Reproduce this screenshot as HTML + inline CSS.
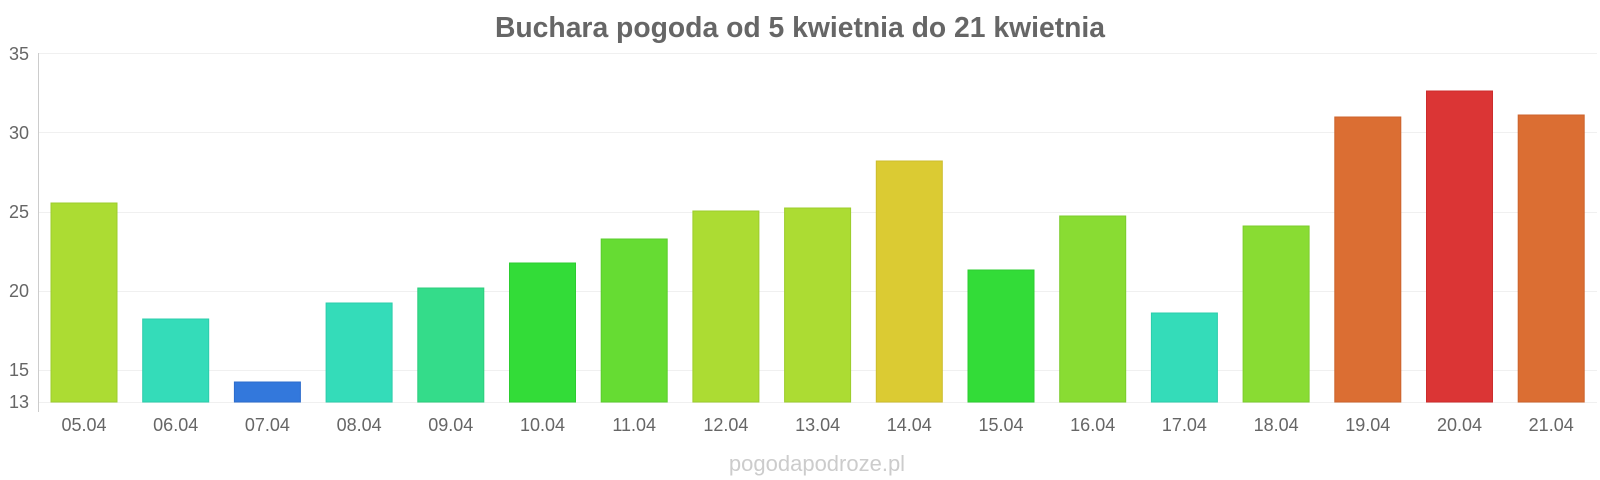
<!DOCTYPE html>
<html><head><meta charset="utf-8"><style>
html,body{margin:0;padding:0;background:#fff;width:1600px;height:480px;overflow:hidden}
svg text{font-family:"Liberation Sans",sans-serif}
</style></head><body>
<svg width="1600" height="480" xmlns="http://www.w3.org/2000/svg">
<text x="800" y="37" text-anchor="middle" font-size="28.3" font-weight="bold" fill="#666">Buchara pogoda od 5 kwietnia do 21 kwietnia</text>
<g stroke="#f0f0f0" stroke-width="1">
<line x1="38" x2="1597" y1="53.5" y2="53.5"/>
<line x1="38" x2="1597" y1="132.5" y2="132.5"/>
<line x1="38" x2="1597" y1="212.5" y2="212.5"/>
<line x1="38" x2="1597" y1="291.5" y2="291.5"/>
<line x1="38" x2="1597" y1="370.5" y2="370.5"/>
<line x1="38" x2="1597" y1="402.5" y2="402.5"/>
</g>
<line x1="38.5" x2="38.5" y1="53" y2="412" stroke="#ccc"/>
<g font-size="18" fill="#666" text-anchor="end">
<text x="29" y="60">35</text>
<text x="29" y="139">30</text>
<text x="29" y="218">25</text>
<text x="29" y="297">20</text>
<text x="29" y="376">15</text>
<text x="29" y="408">13</text>
</g>
<g stroke-width="1">
<rect x="51" y="203" width="66" height="199" fill="#acdc33" stroke="#9ccc2c"/>
<rect x="142.7" y="319" width="66" height="83" fill="#34dcb9" stroke="#2cccab"/>
<rect x="234.4" y="382" width="66" height="20" fill="#3378dc" stroke="#2c6ccc"/>
<rect x="326.1" y="303" width="66" height="99" fill="#34dcb9" stroke="#2cccab"/>
<rect x="417.8" y="288" width="66" height="114" fill="#34dc8a" stroke="#2ccc7c"/>
<rect x="509.5" y="263" width="66" height="139" fill="#33dc38" stroke="#2ccc30"/>
<rect x="601.2" y="239" width="66" height="163" fill="#66dc33" stroke="#5acc2c"/>
<rect x="692.9" y="211" width="66" height="191" fill="#acdc33" stroke="#9ccc2c"/>
<rect x="784.6" y="208" width="66" height="194" fill="#acdc33" stroke="#9ccc2c"/>
<rect x="876.3" y="161" width="66" height="241" fill="#dbcb33" stroke="#ccbc2c"/>
<rect x="968" y="270" width="66" height="132" fill="#33dc38" stroke="#2ccc30"/>
<rect x="1059.7" y="216" width="66" height="186" fill="#89dc33" stroke="#7ccc2c"/>
<rect x="1151.4" y="313" width="66" height="89" fill="#34dcb9" stroke="#2cccab"/>
<rect x="1243.1" y="226" width="66" height="176" fill="#89dc33" stroke="#7ccc2c"/>
<rect x="1334.8" y="117" width="66" height="285" fill="#db6e33" stroke="#cc632c"/>
<rect x="1426.5" y="91" width="66" height="311" fill="#db3535" stroke="#cc2c2c"/>
<rect x="1518.2" y="115" width="66" height="287" fill="#db6e33" stroke="#cc632c"/>
</g>
<g font-size="18" fill="#666" text-anchor="middle">
<text x="84" y="431">05.04</text>
<text x="175.7" y="431">06.04</text>
<text x="267.4" y="431">07.04</text>
<text x="359.1" y="431">08.04</text>
<text x="450.8" y="431">09.04</text>
<text x="542.5" y="431">10.04</text>
<text x="634.2" y="431">11.04</text>
<text x="725.9" y="431">12.04</text>
<text x="817.6" y="431">13.04</text>
<text x="909.3" y="431">14.04</text>
<text x="1001" y="431">15.04</text>
<text x="1092.7" y="431">16.04</text>
<text x="1184.4" y="431">17.04</text>
<text x="1276.1" y="431">18.04</text>
<text x="1367.8" y="431">19.04</text>
<text x="1459.5" y="431">20.04</text>
<text x="1551.2" y="431">21.04</text>
</g>
<text x="817" y="471" text-anchor="middle" font-size="22" fill="#ccc">pogodapodroze.pl</text>
</svg>
</body></html>
